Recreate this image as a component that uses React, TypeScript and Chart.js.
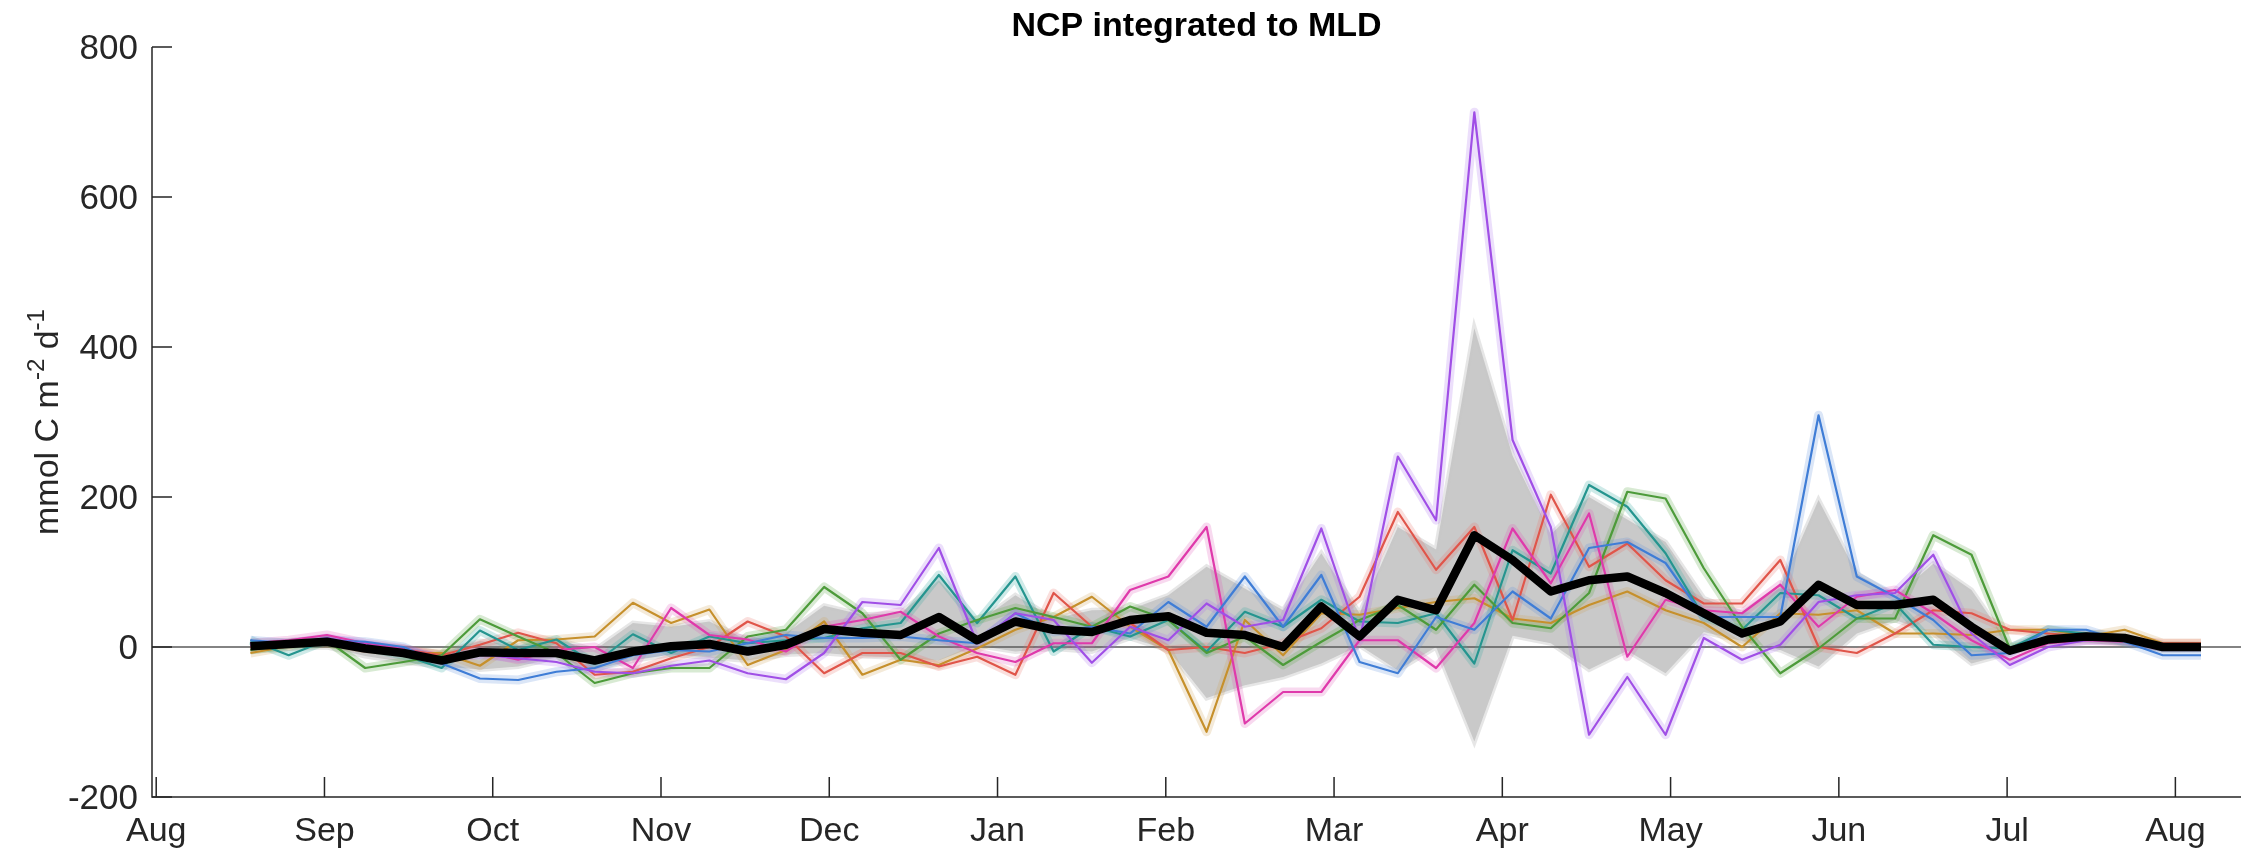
import React, { useEffect, useRef } from "react";
import { Chart, registerables } from "chart.js";

Chart.register(...registerables);

// Axis: months since 1 August, one unit per month
const monthLabels = ["Aug", "Sep", "Oct", "Nov", "Dec", "Jan", "Feb", "Mar", "Apr", "May", "Jun", "Jul", "Aug"];
const yTickValues = [-200, 0, 200, 400, 600, 800];
const X_MIN = -0.025;
const X_MAX = 12.39;
const Y_MIN = -200;
const Y_MAX = 800;

// Weekly samples starting mid-August
const FIRST_SAMPLE = 0.56;
const SAMPLE_STEP = 0.2273;

// NCP integrated to the mixed layer depth, mmol C m-2 d-1
const meanNCP = [1, 4, 7, -2, -8, -18, -7, -8, -8, -18, -6, 1, 4, -6, 3, 24, 19, 16, 40, 9, 34, 23, 20, 36, 41, 19, 16, 0, 54, 14, 63, 49, 149, 116, 74, 89, 94, 72, 45, 18, 34, 83, 56, 56, 63, 27, -5, 10, 14, 12, 0, 0];
const spreadUpper = [8, 9, 12, 5, 0, -8, 8, 2, 10, -4, 32, 27, 34, 9, 18, 55, 43, 45, 89, 32, 69, 38, 49, 50, 69, 107, 78, 49, 125, 45, 160, 130, 425, 255, 150, 200, 170, 140, 65, 45, 80, 196, 98, 67, 111, 76, 2, 18, 20, 18, 5, 4];
const spreadLower = [-6, -2, 0, -12, -20, -26, -30, -26, -14, -30, -18, -10, -14, -18, -10, -8, -12, -14, -18, 2, -6, -2, -6, 12, -4, -68, -51, -40, -22, 2, -31, 0, -126, 15, 5, -30, -5, -35, 20, 8, -4, -26, 18, 36, 18, -22, -8, 4, 8, 6, -5, -4];

const blueNCP = [9, 5, 9, 7, 0, -22, -42, -44, -33, -28, -11, -4, -6, 5, 16, 12, 12, 14, 9, 5, 45, 20, 27, 18, 60, 27, 94, 27, 96, -20, -35, 40, 23, 74, 38, 132, 140, 112, 40, 40, 40, 309, 94, 67, 36, -11, -8, 23, 23, 7, -11, -11];
const orangeNCP = [-8, 1, 5, -2, -8, -8, -25, 9, 10, 14, 59, 32, 50, -24, -4, 34, -37, -17, -24, -2, 23, 40, 67, 27, -4, -113, 36, -11, 45, 43, 52, 60, 65, 38, 32, 56, 74, 49, 32, 0, 45, 43, 49, 18, 18, 16, 23, 23, 14, 23, 5, 5];
const greenNCP = [-4, 3, 9, -28, -20, -11, 37, 14, -8, -48, -35, -28, -28, 14, 23, 80, 45, -17, 18, 36, 52, 40, 27, 54, 36, -8, 14, -24, 7, 36, 56, 23, 83, 32, 25, 72, 207, 198, 105, 27, -35, -2, 38, 38, 149, 123, -2, 9, 12, 7, 0, 0];
const purpleNCP = [2, 5, 12, 3, -5, -15, -10, -15, -20, -33, -35, -25, -18, -35, -43, -8, 60, 56, 132, 5, 45, 36, -21, 27, 9, 58, 27, 36, 158, 9, 254, 169, 713, 276, 160, -117, -40, -117, 12, -17, 3, 60, 69, 72, 123, 18, -24, 0, 9, 9, 0, 0];
const magentaNCP = [5, 9, 16, 5, -2, -15, -6, -17, -4, 0, -28, 52, 16, 10, -6, 27, 36, 47, 14, -8, -20, 5, 5, 76, 94, 160, -102, -60, -60, 9, 9, -28, 32, 158, 85, 178, -13, 63, 49, 45, 83, 27, 67, 76, 45, 9, -17, 5, 9, 7, 0, 0];
const redNCP = [0, 5, 9, -2, -3, -11, 3, 19, 5, -37, -33, -15, 0, 34, 14, -35, -8, -8, -26, -13, -37, 72, 27, 32, -4, 0, -8, 5, 25, 67, 180, 103, 160, 36, 203, 107, 138, 89, 58, 58, 116, 0, -8, 18, 49, 45, 23, 18, 14, 9, 5, 5];
const tealNCP = [9, -11, 9, 0, -11, -28, 22, -4, 10, -22, 17, -8, 14, 5, 9, 12, 25, 32, 96, 32, 94, -6, 27, 14, 36, -6, 47, 27, 63, 34, 32, 45, -22, 129, 98, 216, 187, 125, 40, 23, 72, 69, 38, 58, 3, 0, -2, 23, 18, 7, 0, 0];

const seriesList: { values: number[]; color: string; halo: string }[] = [
  { values: purpleNCP, color: "#a04fe6", halo: "rgba(170,110,235,0.22)" },
  { values: blueNCP, color: "#3f7dd6", halo: "rgba(90,140,220,0.22)" },
  { values: magentaNCP, color: "#df3aab", halo: "rgba(225,80,180,0.22)" },
  { values: greenNCP, color: "#4d9b3a", halo: "rgba(100,170,80,0.25)" },
  { values: tealNCP, color: "#25958f", halo: "rgba(60,170,165,0.25)" },
  { values: redNCP, color: "#e0554a", halo: "rgba(230,110,100,0.22)" },
  { values: orangeNCP, color: "#c6902c", halo: "rgba(205,160,80,0.22)" },
];

const FONT = '"Liberation Sans", Arial, Helvetica, sans-serif';
const AXIS_COLOR = "#262626";

const toPoints = (vals: number[]) => vals.map((v, i) => ({ x: FIRST_SAMPLE + i * SAMPLE_STEP, y: v }));

const axesPlugin = {
  id: "matlabAxes",
  afterDraw(chart: any) {
    const { ctx, chartArea, scales } = chart;
    const xs = scales.x;
    const ys = scales.y;
    const tickLen = 20;
    ctx.save();
    ctx.strokeStyle = AXIS_COLOR;
    ctx.lineWidth = 1.5;
    // axis lines
    ctx.beginPath();
    ctx.moveTo(chartArea.left, chartArea.top);
    ctx.lineTo(chartArea.left, chartArea.bottom);
    ctx.lineTo(chartArea.right, chartArea.bottom);
    ctx.stroke();
    // inward ticks
    ctx.beginPath();
    xs.ticks.forEach((t: any) => {
      const px = xs.getPixelForValue(t.value);
      ctx.moveTo(px, chartArea.bottom);
      ctx.lineTo(px, chartArea.bottom - tickLen);
    });
    ys.ticks.forEach((t: any) => {
      const py = ys.getPixelForValue(t.value);
      ctx.moveTo(chartArea.left, py);
      ctx.lineTo(chartArea.left + tickLen, py);
    });
    ctx.stroke();

    // tick labels
    ctx.fillStyle = AXIS_COLOR;
    ctx.font = `34px ${FONT}`;
    ctx.textAlign = "center";
    ctx.textBaseline = "alphabetic";
    xs.ticks.forEach((t: any) => {
      const px = xs.getPixelForValue(t.value);
      ctx.fillText(monthLabels[t.value], px, chartArea.bottom + 44);
    });
    ctx.font = `35px ${FONT}`;
    ctx.textAlign = "right";
    ys.ticks.forEach((t: any) => {
      const py = ys.getPixelForValue(t.value);
      ctx.fillText(String(t.value), chartArea.left - 14, py + 12);
    });

    // title
    ctx.fillStyle = "#000";
    ctx.font = `bold 34px ${FONT}`;
    ctx.textAlign = "center";
    ctx.fillText("NCP integrated to MLD", (chartArea.left + chartArea.right) / 2, 36);

    // y-axis label with superscripts
    const parts = [
      { t: "mmol C m", sup: false },
      { t: "-2", sup: true },
      { t: " d", sup: false },
      { t: "-1", sup: true },
    ];
    const mainFont = `34px ${FONT}`;
    const supFont = `24px ${FONT}`;
    let total = 0;
    const widths = parts.map((p) => {
      ctx.font = p.sup ? supFont : mainFont;
      const w = ctx.measureText(p.t).width;
      total += w;
      return w;
    });
    ctx.translate(58, (chartArea.top + chartArea.bottom) / 2);
    ctx.rotate(-Math.PI / 2);
    ctx.fillStyle = AXIS_COLOR;
    ctx.textAlign = "left";
    let cx = -total / 2;
    parts.forEach((p, i) => {
      ctx.font = p.sup ? supFont : mainFont;
      ctx.fillText(p.t, cx, p.sup ? -14 : 0);
      cx += widths[i];
    });
    ctx.restore();
  },
};

export default function App() {
  const canvasRef = useRef<HTMLCanvasElement | null>(null);

  useEffect(() => {
    const canvas = canvasRef.current;
    if (!canvas) return;

    const lineSets = seriesList.map((s) => ({
      data: toPoints(s.values),
      borderColor: s.color,
      borderWidth: 2.2,
      pointRadius: 0,
      fill: false,
      borderJoinStyle: "round" as const,
    }));
    const haloSets = seriesList.map((s) => ({
      data: toPoints(s.values),
      borderColor: s.halo,
      borderWidth: 9,
      pointRadius: 0,
      fill: false,
      borderJoinStyle: "round" as const,
    }));

    const chart = new Chart(canvas, {
      type: "line",
      data: {
        datasets: [
          {
            data: toPoints(meanNCP),
            borderColor: "#000000",
            borderWidth: 8.5,
            pointRadius: 0,
            fill: false,
            borderJoinStyle: "round",
          } as any,
          ...lineSets,
          ...haloSets,
          {
            data: [
              { x: X_MIN, y: 0 },
              { x: X_MAX, y: 0 },
            ],
            borderColor: "#5a5a5a",
            borderWidth: 1.3,
            pointRadius: 0,
            fill: false,
          },
          {
            data: toPoints(spreadUpper),
            borderColor: "rgba(200,200,200,0.45)",
            borderWidth: 5,
            pointRadius: 0,
            backgroundColor: "#c9c9c9",
            fill: "+1",
          },
          {
            data: toPoints(spreadLower),
            borderColor: "rgba(200,200,200,0.45)",
            borderWidth: 5,
            pointRadius: 0,
            fill: false,
          },
        ],
      },
      options: {
        responsive: false,
        animation: false,
        events: [],
        layout: { padding: { left: 0, right: 14, top: 47, bottom: 0 } },
        plugins: {
          legend: { display: false },
          tooltip: { enabled: false },
          title: { display: false },
        },
        elements: { line: { tension: 0 }, point: { radius: 0 } },
        scales: {
          x: {
            type: "linear",
            min: X_MIN,
            max: X_MAX,
            grid: { display: false, drawTicks: false },
            border: { display: false },
            ticks: { display: false },
            afterBuildTicks: (s: any) => {
              s.ticks = monthLabels.map((_, i) => ({ value: i }));
            },
            afterFit: (s: any) => {
              s.height = 52;
            },
          },
          y: {
            type: "linear",
            min: Y_MIN,
            max: Y_MAX,
            grid: { display: false, drawTicks: false },
            border: { display: false },
            ticks: { display: false },
            afterBuildTicks: (s: any) => {
              s.ticks = yTickValues.map((v) => ({ value: v }));
            },
            afterFit: (s: any) => {
              s.width = 152;
            },
          },
        },
      },
      plugins: [axesPlugin],
    });

    return () => {
      chart.destroy();
    };
  }, []);

  return (
    <div style={{ position: "fixed", left: 0, top: 0, width: 2255, height: 849, background: "#ffffff" }}>
      <canvas ref={canvasRef} width={2255} height={849} style={{ width: 2255, height: 849, display: "block" }} />
    </div>
  );
}
